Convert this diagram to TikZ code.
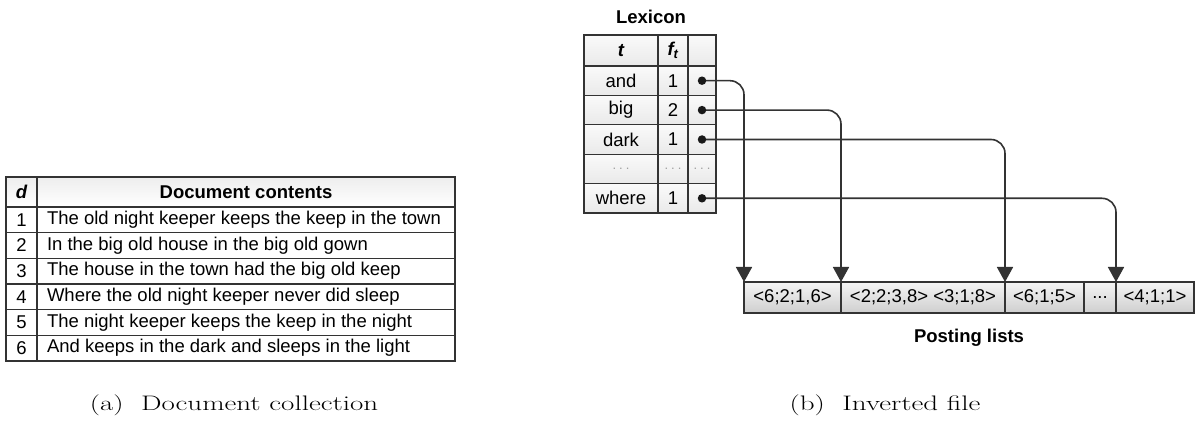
\documentclass[tikz,border=0pt]{standalone}
\usepackage{fontspec}
\newfontfamily\arialf{Liberation Sans}
\usetikzlibrary{arrows.meta}
\definecolor{linec}{HTML}{333333}
\begin{document}
\begin{tikzpicture}[x=1pt,y=-1pt,
  base/.style={draw=linec,line width=1.2pt,anchor=north west,inner sep=0pt,outer sep=0pt,
    font=\arialf\fontsize{18.5}{21}\selectfont},
  doccell/.style={base,fill=white},
  dochdr/.style={base,top color=gray!14,bottom color=white},
  lexcell/.style={base,top color=gray!4,bottom color=gray!17},
  postcell/.style={base,top color=gray!8,bottom color=gray!38},
  dot/.style={circle,fill=black!90,inner sep=0pt,minimum size=8.5pt},
  conn/.style={draw=linec,line width=1.6pt,rounded corners=14pt,-{Triangle[length=15pt,width=16pt]}},
  ttl/.style={font=\arialf\bfseries\fontsize{18.5}{21}\selectfont},
  captxt/.style={font=\fontsize{21}{24}\selectfont},
  lightdots/.style={text=gray!75,font=\arialf\fontsize{13}{14}\selectfont}]
\useasboundingbox (0,0) rectangle (1196,427);

% ---- (a) Document collection table ----
\node[dochdr,minimum width=31pt,minimum height=30pt] (dh) at (6,177) {\bfseries\itshape d};
\node[dochdr,minimum width=418pt,minimum height=30pt] (ch) at (37,177) {\bfseries Document contents};
\foreach \i/\t in {1/The old night keeper keeps the keep in the town,
                   2/In the big old house in the big old gown,
                   3/The house in the town had the big old keep,
                   4/Where the old night keeper never did sleep,
                   5/The night keeper keeps the keep in the night,
                   6/And keeps in the dark and sleeps in the light}{
  \node[doccell,minimum width=31pt,minimum height=25.67pt] (n\i) at (6,{207+(\i-1)*25.67}) {\i};
  \node[doccell,minimum width=418pt,minimum height=25.67pt,inner xsep=10pt] (c\i) at (37,{207+(\i-1)*25.67}) {\makebox[398pt][l]{\t}};
}

% ---- (b) Lexicon ----
\node[ttl] (lex) at (651,17) {Lexicon};
\node[lexcell,minimum width=74pt,minimum height=31pt] (ht) at (584,35) {\bfseries\itshape t};
\node[lexcell,minimum width=30pt,minimum height=31pt] (hf) at (658,35) {\bfseries\itshape f\textsubscript{t}};
\node[lexcell,minimum width=28pt,minimum height=31pt] (hp) at (688,35) {};
\foreach \k/\w/\f/\y in {and/and/1/66, big/big/2/95.4, dark/dark/1/124.8, where/where/1/183.6}{
  \node[lexcell,minimum width=74pt,minimum height=29.4pt] (t\k) at (584,\y) {\w};
  \node[lexcell,minimum width=30pt,minimum height=29.4pt] (f\k) at (658,\y) {\f};
  \node[lexcell,minimum width=28pt,minimum height=29.4pt] (p\k) at (688,\y) {};
  \coordinate (d\k) at (p\k.center);
}
\node[lexcell,minimum width=74pt,minimum height=29.4pt,lightdots] (tdots) at (584,154.2) {.\hspace{3pt}.\hspace{3pt}.};
\node[lexcell,minimum width=30pt,minimum height=29.4pt,lightdots] (fdots) at (658,154.2) {.\hspace{3pt}.\hspace{3pt}.};
\node[lexcell,minimum width=28pt,minimum height=29.4pt,lightdots] (pdots) at (688,154.2) {.\hspace{3pt}.\hspace{3pt}.};

% ---- Posting lists ----
\node[postcell,minimum width=97pt,minimum height=31pt] (q1) at (744,282) {<6;2;1,6>};
\node[postcell,minimum width=164pt,minimum height=31pt] (q2) at (841,282) {<2;2;3,8> <3;1;8>};
\node[postcell,minimum width=79pt,minimum height=31pt] (q3) at (1005,282) {<6;1;5>};
\node[postcell,minimum width=32pt,minimum height=31pt] (q4) at (1084,282) {...};
\node[postcell,minimum width=78pt,minimum height=31pt] (q5) at (1116,282) {<4;1;1>};
\node[ttl] (pl) at (969,338) {Posting lists};

% ---- connectors ----
\draw[conn] (dand) -| (q1.north west);
\draw[conn] (dbig) -| (q2.north west);
\draw[conn] (ddark) -| (q3.north west);
\draw[conn] (dwhere) -| (q5.north west);
\foreach \k in {and,big,dark,where}{\node[dot] at (d\k) {};}

% ---- captions ----
\node[captxt] (capa) at (234,405) {\scalebox{1.38}[1]{(a)\ \ Document collection}};
\node[captxt] (capb) at (885,405) {\scalebox{1.38}[1]{(b)\ \ Inverted file}};
\end{tikzpicture}
\end{document}
